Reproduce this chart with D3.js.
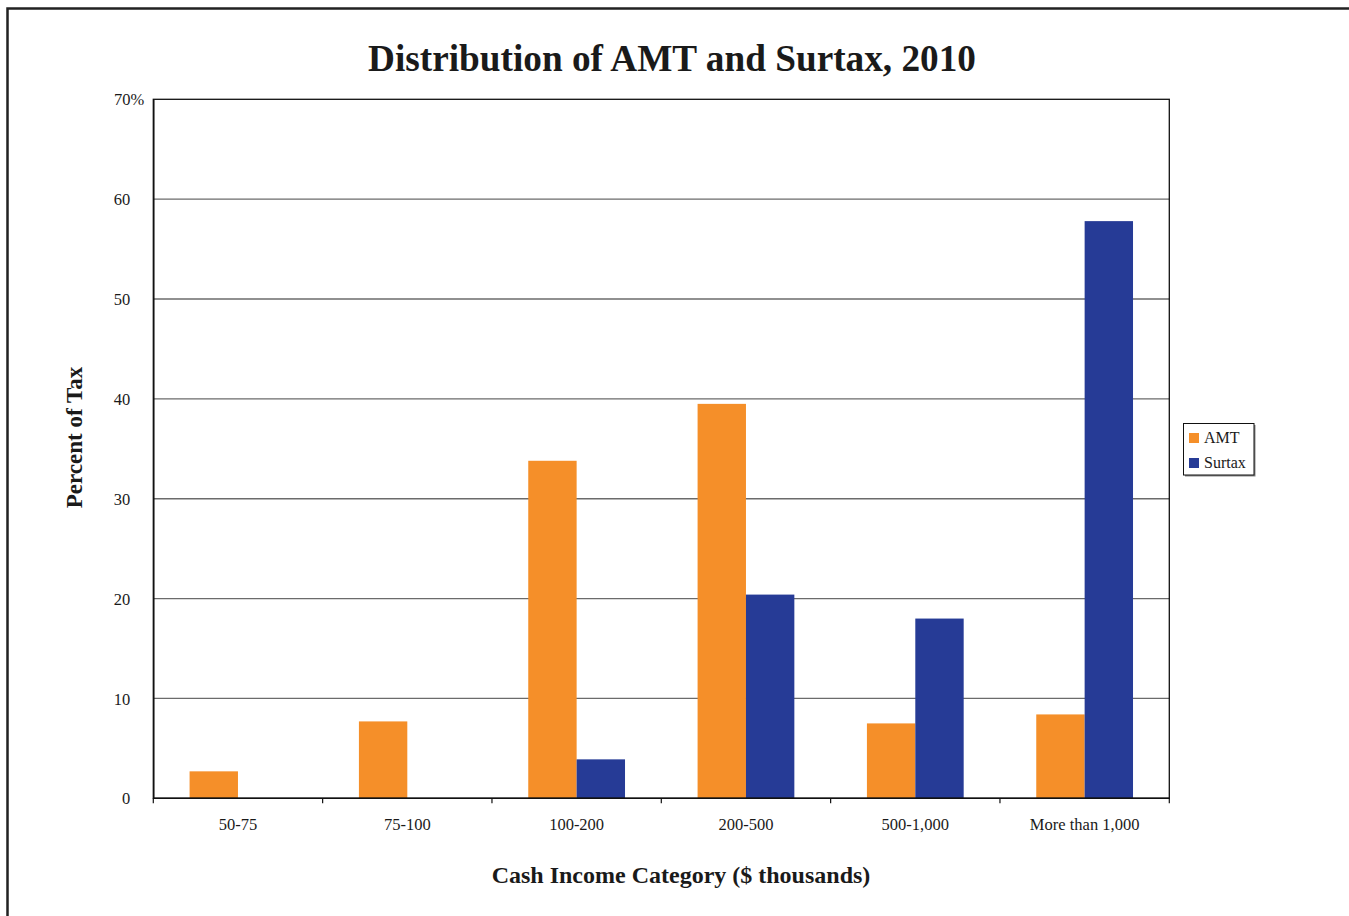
<!DOCTYPE html>
<html>
<head>
<meta charset="utf-8">
<script src="https://cdn.jsdelivr.net/npm/d3@7"></script>
<style>
  html, body { margin: 0; padding: 0; background: #fff; }
  svg { display: block; }
  text { font-family: "Liberation Serif", "Times New Roman", serif; fill: #1a1a1a; }
</style>
</head>
<body>
<script>
const categories = ["50-75", "75-100", "100-200", "200-500", "500-1,000", "More than 1,000"];
const seriesNames = ["AMT", "Surtax"];
const amtValues = [2.7, 7.7, 33.8, 39.5, 7.5, 8.4];
const surtaxValues = [0, 0, 3.9, 20.4, 18.0, 57.8];
const yTicks = [0, 10, 20, 30, 40, 50, 60, 70];
const seriesColors = ["#F58F29", "#263B96"];

const W = 1349, H = 916;
const plot = { left: 153.3, right: 1169.3, top: 99.3, bottom: 798.3 };

const svg = d3.select("body").append("svg").attr("width", W).attr("height", H);

// outer frame
svg.append("rect").attr("x", 7.5).attr("y", 8.5).attr("width", W + 20).attr("height", H + 20)
  .attr("fill", "none").attr("stroke", "#222").attr("stroke-width", 2.5);

const x0 = d3.scaleBand().domain(categories).range([plot.left, plot.right]).padding(0);
const x1 = d3.scaleBand().domain(seriesNames).range([0, x0.bandwidth()]).paddingInner(0).paddingOuter(0.75);
const y = d3.scaleLinear().domain([0, 70]).range([plot.bottom, plot.top]);
const color = d3.scaleOrdinal().domain(seriesNames).range(seriesColors);

// gridlines
svg.append("g").selectAll("line").data(yTicks.filter(d => d > 0 && d < 70)).join("line")
  .attr("x1", plot.left).attr("x2", plot.right)
  .attr("y1", d => y(d)).attr("y2", d => y(d))
  .attr("stroke", "#6b6b6b").attr("stroke-width", 1.3);

// bars
const rows = categories.map((c, i) => ({ cat: c, vals: [amtValues[i], surtaxValues[i]] }));
const groups = svg.append("g").selectAll("g").data(rows).join("g")
  .attr("transform", d => `translate(${x0(d.cat)},0)`);
groups.selectAll("rect").data(d => d.vals.map((v, j) => ({ key: seriesNames[j], v })).filter(e => e.v > 0)).join("rect")
  .attr("x", d => x1(d.key)).attr("width", x1.bandwidth())
  .attr("y", d => y(d.v)).attr("height", d => y(0) - y(d.v))
  .attr("fill", d => color(d.key));

// plot border (top/right)
svg.append("rect").attr("x", plot.left).attr("y", plot.top)
  .attr("width", plot.right - plot.left).attr("height", plot.bottom - plot.top)
  .attr("fill", "none").attr("stroke", "#111").attr("stroke-width", 1.3);

// y axis labels
const yAxis = d3.axisLeft(y).tickValues(yTicks).tickSize(0).tickPadding(0)
  .tickFormat(d => d === 70 ? "70%" : String(d));
const gy = svg.append("g").attr("transform", `translate(${plot.left},0)`).call(yAxis);
gy.select(".domain").attr("stroke", "#111").attr("stroke-width", 1.5);
gy.selectAll("text")
  .attr("font-family", "Liberation Serif, serif").attr("font-size", 16.5).attr("fill", "#1a1a1a")
  .attr("x", d => d === 70 ? -9 : -23).attr("dy", "0.34em");

// x axis
const boundaries = categories.map(c => x0(c)).concat([plot.right]);
svg.append("g").selectAll("line").data(boundaries).join("line")
  .attr("x1", d => d).attr("x2", d => d).attr("y1", plot.bottom).attr("y2", plot.bottom + 5)
  .attr("stroke", "#111").attr("stroke-width", 1.2);
svg.append("line").attr("x1", plot.left).attr("x2", plot.right)
  .attr("y1", plot.bottom).attr("y2", plot.bottom).attr("stroke", "#111").attr("stroke-width", 1.6);
svg.append("g").selectAll("text").data(categories).join("text")
  .attr("x", d => x0(d) + x0.bandwidth() / 2).attr("y", 830)
  .attr("text-anchor", "middle").attr("font-size", 16.5).text(d => d);

// title
svg.append("text").attr("x", 672).attr("y", 71).attr("text-anchor", "middle")
  .attr("font-size", 38).attr("font-weight", "bold")
  .attr("textLength", 608).attr("lengthAdjust", "spacingAndGlyphs")
  .text("Distribution of AMT and Surtax, 2010");

// axis titles
svg.append("text").attr("x", 681).attr("y", 883).attr("text-anchor", "middle")
  .attr("font-size", 24).attr("font-weight", "bold")
  .text("Cash Income Category ($ thousands)");
svg.append("text").attr("transform", "translate(82,437.5) rotate(-90)").attr("text-anchor", "middle")
  .attr("font-size", 23).attr("font-weight", "bold")
  .text("Percent of Tax");

// legend
const lg = svg.append("g");
lg.append("rect").attr("x", 1185).attr("y", 425).attr("width", 70.5).attr("height", 51.5).attr("fill", "#888");
lg.append("rect").attr("x", 1183.5).attr("y", 423.5).attr("width", 70.5).attr("height", 51.5)
  .attr("fill", "#fff").attr("stroke", "#111").attr("stroke-width", 1);
const items = lg.selectAll("g.item").data(seriesNames).join("g").attr("class", "item")
  .attr("transform", (d, i) => `translate(1189,${433 + i * 25})`);
items.append("rect").attr("width", 10).attr("height", 10).attr("fill", d => color(d));
items.append("text").attr("x", 15).attr("y", 9.7).attr("font-size", 16).text(d => d);
</script>
</body>
</html>
